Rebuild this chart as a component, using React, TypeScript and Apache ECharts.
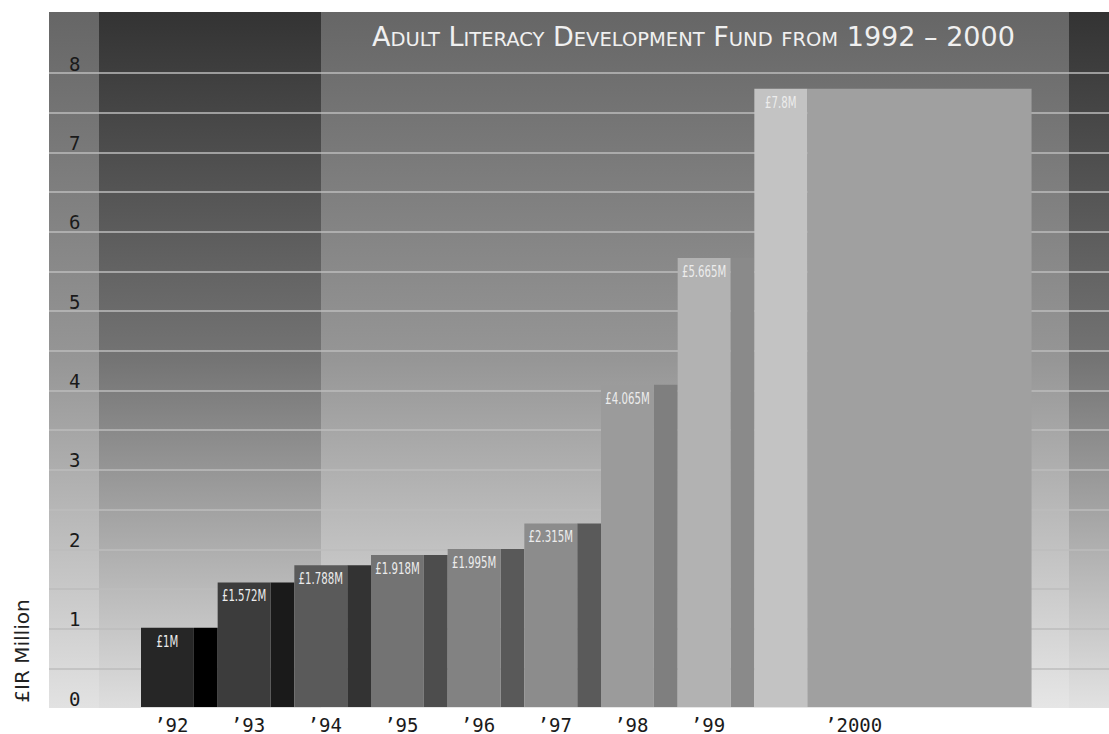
import React, { useEffect, useRef } from 'react';
import * as echarts from 'echarts';

const titleText = 'Adult Literacy Development Fund from 1992 – 2000';
const years = ['’92', '’93', '’94', '’95', '’96', '’97', '’98', '’99', '’2000'];
const funding = [1, 1.572, 1.788, 1.918, 1.995, 2.315, 4.065, 5.665, 7.8];
const yTickLabels = [0, 1, 2, 3, 4, 5, 6, 7, 8];

const frontColors = ['#262626', '#3c3c3c', '#5a5a5a', '#737373', '#828282', '#8c8c8c', '#9b9b9b', '#b2b2b2', '#c3c3c3'];
const sideColors = ['#000000', '#1a1a1a', '#333333', '#4d4d4d', '#595959', '#5a5a5a', '#7f7f7f', '#8a8a8a', '#a0a0a0'];

const MONO = "'DejaVu Sans Mono', monospace";
const SANS = "'DejaVu Sans', sans-serif";

function grad(stops: string[]) {
  return new echarts.graphic.LinearGradient(
    0, 0, 0, 1,
    stops.map((c, i) => ({ offset: i / (stops.length - 1), color: c }))
  );
}

// small-caps emulation: lowercase letters become smaller capitals
function smallCaps(t: string) {
  let out = '';
  let run = '';
  let runType = '';
  const flush = () => {
    if (run) out += `{${runType}|${run}}`;
    run = '';
  };
  for (const ch of t) {
    const isLower = ch !== ch.toUpperCase();
    const type = isLower ? 's' : 'b';
    if (type !== runType) {
      flush();
      runType = type;
    }
    run += isLower ? ch.toUpperCase() : ch;
  }
  flush();
  return out;
}

export default function App() {
  const ref = useRef<HTMLDivElement>(null);
  useEffect(() => {
    if (!ref.current) return;
    const chart = echarts.init(ref.current, undefined, { renderer: 'svg' });
    const last = years.length - 1;
    const gridColors = ['rgba(0,0,0,0)'].concat(new Array(16).fill('#bcbcbc'));
    const option: any = {
      animation: false,
      backgroundColor: '#ffffff',
      title: {
        text: smallCaps(titleText),
        left: 372,
        top: 19,
        padding: 0,
        textStyle: {
          color: '#f0f0f0',
          fontSize: 27,
          fontWeight: 'normal',
          fontFamily: SANS,
          rich: {
            b: { fontSize: 27, fontWeight: 'normal', fontFamily: SANS, color: '#f0f0f0', lineHeight: 31, verticalAlign: 'bottom' },
            s: { fontSize: 19.5, fontWeight: 'normal', fontFamily: SANS, color: '#f0f0f0', lineHeight: 31, verticalAlign: 'bottom', padding: [0, 0, 1, 0] },
          },
        },
      },
      graphic: [
        { type: 'rect', z: -10, silent: true, shape: { x: 49, y: 12, width: 50, height: 696 }, style: { fill: grad(['#666666', '#969696', '#e2e2e2']) } },
        { type: 'rect', z: -10, silent: true, shape: { x: 99, y: 12, width: 222, height: 696 }, style: { fill: grad(['#333333', '#747474', '#dedede']) } },
        { type: 'rect', z: -10, silent: true, shape: { x: 321, y: 12, width: 748, height: 696 }, style: { fill: grad(['#666666', '#969696', '#e6e6e6']) } },
        { type: 'rect', z: -10, silent: true, shape: { x: 1069, y: 12, width: 40, height: 696 }, style: { fill: grad(['#333333', '#747474', '#e2e2e2']) } },
        {
          type: 'text', x: 22, y: 651, rotation: Math.PI / 2, silent: true,
          style: { text: '£IR Million', fontSize: 20, fontFamily: SANS, fill: '#222222', align: 'center', verticalAlign: 'middle' },
        },
      ],
      grid: [
        { left: 49, right: 0, top: 73, bottom: 26 },
        { left: 141, width: 690, top: 73, bottom: 26 },
      ],
      xAxis: [
        { type: 'value', gridIndex: 0, show: false, min: 0, max: 1 },
        {
          type: 'category', gridIndex: 1, data: years,
          axisLine: { show: false }, axisTick: { show: false }, splitLine: { show: false },
          axisLabel: {
            interval: 0,
            hideOverlap: false,
            margin: 8,
            color: '#1a1a1a', fontSize: 19, fontFamily: MONO,
            formatter: (v: string, i: number) => (i === last ? `{wide|${v}}` : `{norm|${v}}`),
            rich: {
              norm: { padding: [0, 16, 0, 0], fontSize: 19, fontFamily: MONO, color: '#1a1a1a' },
              wide: { padding: [0, 0, 0, 122], fontSize: 19, fontFamily: MONO, color: '#1a1a1a' },
            },
          },
        },
      ],
      yAxis: [
        {
          type: 'value', gridIndex: 0, min: 0, max: 8, interval: 0.5,
          axisLine: { show: false }, axisTick: { show: false },
          splitLine: { show: true, lineStyle: { color: gridColors, width: 1.5 } },
          axisLabel: {
            inside: true, margin: 20, align: 'left', verticalAlign: 'bottom',
            color: '#1a1a1a', fontSize: 19, fontFamily: MONO,
            formatter: (v: number) => (yTickLabels.includes(v) ? String(v) : ''),
          },
        },
        { type: 'value', gridIndex: 1, min: 0, max: 8, show: false },
      ],
      series: [
        {
          type: 'custom',
          xAxisIndex: 1,
          yAxisIndex: 1,
          clip: false,
          encode: { x: 0, y: 1 },
          data: funding.map((v, i) => [i, v]),
          renderItem: (params: any, api: any) => {
            const i = api.value(0);
            const v = api.value(1);
            const top = api.coord([i, v]);
            const base = api.coord([i, 0]);
            const bw = api.size([1, 0])[0];
            const x0 = top[0] - bw / 2;
            const fw = bw * 0.69;
            const sw = i === last ? bw * 2.926 : bw - fw;
            const h = base[1] - top[1];
            return {
              type: 'group',
              children: [
                { type: 'rect', shape: { x: x0 + fw, y: top[1], width: sw, height: h }, style: { fill: sideColors[i] } },
                { type: 'rect', shape: { x: x0, y: top[1], width: fw, height: h }, style: { fill: frontColors[i] } },
                {
                  type: 'text', x: x0 + fw / 2, y: top[1] + 6, scaleX: 0.68, scaleY: 1,
                  style: { text: `£${funding[i]}M`, fill: '#ececec', fontSize: 15, fontFamily: SANS, align: 'center', verticalAlign: 'top' },
                },
              ],
            };
          },
        },
      ],
    };
    chart.setOption(option);
    return () => chart.dispose();
  }, []);
  return (
    <div
      ref={ref}
      style={{ position: 'fixed', left: 0, top: 0, width: 1109, height: 734, background: '#fff' }}
    />
  );
}
